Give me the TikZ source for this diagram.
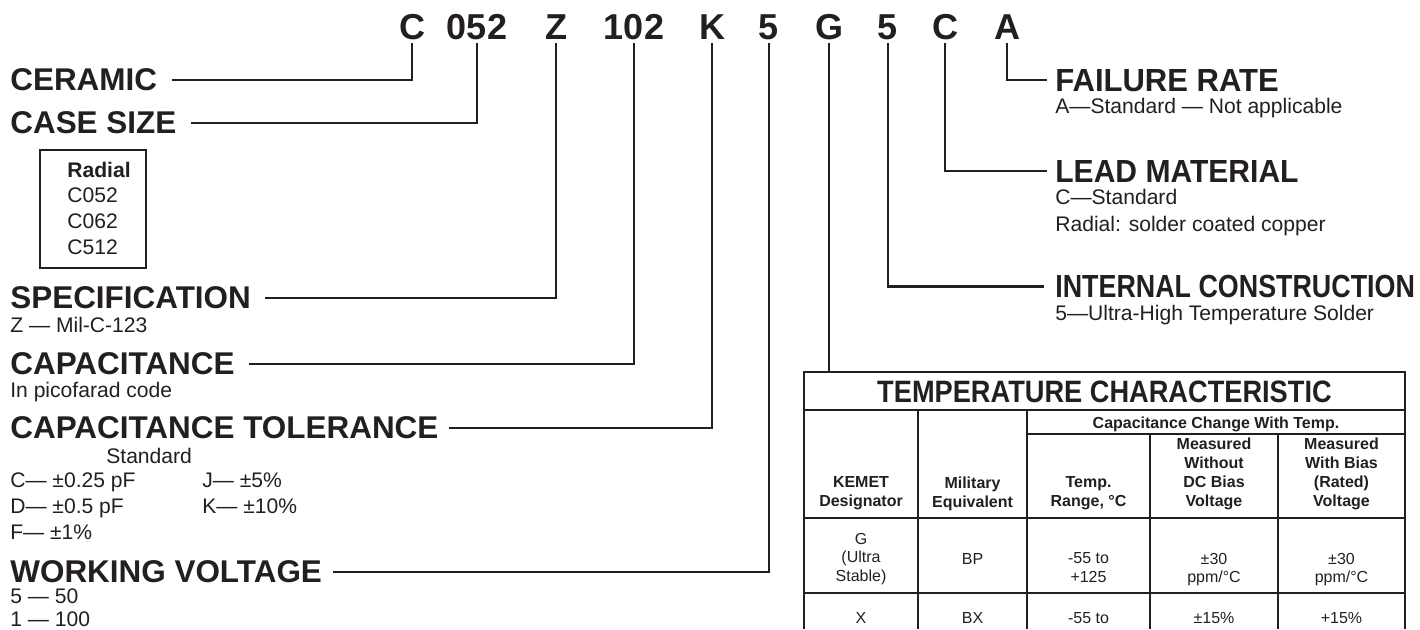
\documentclass[tikz,border=0pt]{standalone}
\usepackage{fontspec}
\usepackage{graphicx}
\usepackage{xcolor}
\setmainfont{Liberation Sans}

\begin{document}
\begin{tikzpicture}[x=0.02cm, y=-0.02cm,
  codice/.style={font=\bfseries\fontsize{20.5pt}{24pt}\selectfont, inner sep=0pt, outer ysep=2.3pt, anchor=base, text=inkKemet},
  voce/.style={font=\bfseries\fontsize{17.9pt}{21pt}\selectfont, inner sep=0pt, anchor=base west, text=inkKemet},
  vocedx/.style={font=\bfseries\fontsize{18.2pt}{21pt}\selectfont, inner sep=0pt, anchor=base west, text=inkKemet},
  nota/.style={font=\fontsize{12pt}{14pt}\selectfont, inner sep=0pt, anchor=base west, text=inkKemet},
  filo/.style={draw=inkKemet, line width=1.25pt},
  griglia/.style={draw=inkKemet, line width=0.95pt},
  cella/.style={font=\fontsize{9.1pt}{10.8pt}\selectfont, align=center, inner sep=0pt, anchor=north, text=inkKemet},
  cellab/.style={cella, font=\bfseries\fontsize{9.1pt}{10.8pt}\selectfont},
]

% Colori
\definecolor{inkKemet}{HTML}{231F20}

\useasboundingbox (0,0) rectangle (1420,629);

% Codice in alto
\node[codice] (cC) at (412,39) {C};
\node[codice] (cSize) at (477,39) {052};
\node[codice] (cSpec) at (556,39) {Z};
\node[codice] (cCap) at (634,39) {102};
\node[codice] (cTol) at (712,39) {K};
\node[codice] (cVolt) at (769,39) {5};
\node[codice] (cTemp) at (829,39) {G};
\node[codice] (cInt) at (888,39) {5};
\node[codice] (cLead) at (945,39) {C};
\node[codice] (cFail) at (1007,39) {A};

% Voci a sinistra
\node[voce] (ceramic) at (10,90.5) {CERAMIC};
\node[voce] (casesize) at (10,133.5) {CASE SIZE};
\node[voce] (spec) at (10,308.5) {SPECIFICATION};
\node[voce] (capac) at (10,374.5) {CAPACITANCE};
\node[voce] (toll) at (10,438.5) {CAPACITANCE TOLERANCE};
\node[voce] (volt) at (10,582.5) {WORKING VOLTAGE};

% Riquadro Radial
\draw[inkKemet, line width=0.75pt] (40,150) rectangle (146,268);
\node[nota, font=\bfseries\fontsize{12pt}{14pt}\selectfont] (radial) at (67,177) {Radial};
\node[nota] (c052) at (67,202) {C052};
\node[nota] (c062) at (67,228) {C062};
\node[nota] (c512) at (67,254) {C512};

% Note a sinistra
\node[nota] (specZ) at (10,332) {Z — Mil-C-123};
\node[nota] (capNote) at (10,397) {In picofarad code};
\node[nota] (tolStd) at (106,463) {Standard};
\node[nota] (tolC) at (10,487) {C— ±0.25 pF};
\node[nota] (tolJ) at (202,487) {J— ±5\%};
\node[nota] (tolD) at (10,513) {D— ±0.5 pF};
\node[nota] (tolK) at (202,513) {K— ±10\%};
\node[nota] (tolF) at (10,539) {F— ±1\%};
\node[nota] (volt50) at (10,603) {5 — 50};
\node[nota] (volt100) at (10,626) {1 — 100};

% Voci a destra
\node[vocedx] (failure) at (1055,91) {\scalebox{0.97}[1]{FAILURE RATE}};
\node[nota] (failNote) at (1055,113) {A—Standard — Not applicable};
\node[vocedx] (lead) at (1055,182) {\scalebox{0.94}[1]{LEAD MATERIAL}};
\node[nota] (leadStd) at (1055,204) {C—Standard};
\node[nota] (leadRad) at (1055,231) {Radial: solder coated copper};
\node[vocedx] (internal) at (1055,297.5) {\scalebox{0.84}[1]{INTERNAL CONSTRUCTION}};
\node[nota] (intNote) at (1055,320) {5—Ultra-High Temperature Solder};

% Collegamenti
\draw[filo, shorten >=8pt] (cC.south) |- (ceramic.east);
\draw[filo, shorten >=8pt] (cSize.south) |- (casesize.east);
\draw[filo, shorten >=8pt] (cSpec.south) |- (spec.east);
\draw[filo, shorten >=8pt] (cCap.south) |- (capac.east);
\draw[filo, shorten >=6pt] (cTol.south) |- (toll.east);
\draw[filo, shorten >=6pt] (cVolt.south) |- (volt.east);
\draw[filo, shorten >=6.5pt] (cInt.south) |- (internal.west);
\draw[filo, shorten >=4.5pt] (cLead.south) |- (lead.west);
\draw[filo, shorten >=4.5pt] (cFail.south) |- (failure.west);

% Tabella
\coordinate (tabNW) at (804,372);
\draw[griglia] (804,629) -- (tabNW) -- (1405,372) -- (1405,629);
\draw[griglia] (804,410) -- (1405,410);
\draw[griglia] (1027,434) -- (1405,434);
\draw[griglia] (804,518) -- (1405,518);
\draw[griglia] (804,593) -- (1405,593);
\draw[griglia] (918,410) -- (918,629);
\draw[griglia] (1027,410) -- (1027,629);
\draw[griglia] (1150,434) -- (1150,629);
\draw[griglia] (1278,434) -- (1278,629);
\draw[filo] (cTemp.south) -- (cTemp.south |- tabNW);

\node[font=\bfseries\fontsize{17.6pt}{20pt}\selectfont, inner sep=0pt, anchor=base, text=inkKemet] (tabTitle) at (1104.5,402) {\scalebox{0.88}[1]{TEMPERATURE CHARACTERISTIC}};
\node[cellab, anchor=base] (hCap) at (1216,428) {Capacitance Change With Temp.};

% Intestazioni
\node[cellab] (hKemet) at (861,476.5) {KEMET\\Designator};
\node[cellab] (hMil) at (972.5,476.5) {Military\\Equivalent};
\node[cellab] (hRange) at (1088.5,476.5) {Temp.\\Range, °C};
\node[cellab] (hNoBias) at (1214,437.5) {Measured\\Without\\DC Bias\\Voltage};
\node[cellab] (hBias) at (1341.5,437.5) {Measured\\With Bias\\(Rated)\\Voltage};

% Riga G
\node[cella] (gKemet) at (861,532.5) {G\\(Ultra\\Stable)};
\node[cella, anchor=base] (gMil) at (972.5,564) {BP};
\node[cella] (gRange) at (1088.5,552.5) {-55 to\\+125};
\node[cella] (gNoBias) at (1214,552.5) {±30\\ppm/°C};
\node[cella] (gBias) at (1341.5,552.5) {±30\\ppm/°C};

% Riga X
\node[cella, anchor=base] (xKemet) at (861,623) {X};
\node[cella, anchor=base] (xMil) at (972.5,623) {BX};
\node[cella, anchor=base] (xRange) at (1088.5,623) {-55 to};
\node[cella, anchor=base] (xNoBias) at (1214,623) {±15\%};
\node[cella, anchor=base] (xBias) at (1341.5,623) {+15\%};

\end{tikzpicture}
\end{document}
